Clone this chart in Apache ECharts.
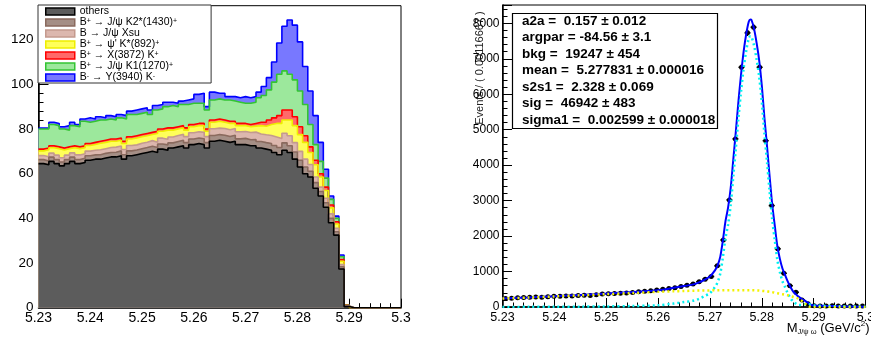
<!DOCTYPE html>
<html><head><meta charset="utf-8">
<script src="https://cdn.jsdelivr.net/npm/echarts@6/dist/echarts.min.js"></script>
<style>html,body{margin:0;padding:0;background:#fff}#c{width:871px;height:340px}</style>
</head><body><div id="c"></div>
<script>
// ---------------- LEFT PANEL: stacked MC histogram ----------------
const histStart = 5.23;          // low edge of first bin
const histBinWidth = 0.001;      // bin width
const others = [64.5,64,65.5,64.5,63.5,64.5,65.5,64.5,65,66,
  66.5,66.5,67,67.5,67.5,68,66.5,68,68.5,69,
  69.5,70,69.5,71,70.5,71.5,72,72.5,71.5,73,
  73.5,73,71.5,74.5,75,74.5,74,74.5,73,73,
  72.5,72.5,71.5,71,70.5,69.5,68.5,70.5,69.5,66.5,
  63,60,58.5,53.5,50,45,38,32.5,17.3,0.5,
  0,0,0,0,0,0,0,0,0,0];
const k2_1430 = [1.8,1.7,1.9,1.8,1.7,1.8,1.9,1.8,1.9,2.0,
  1.9,2.0,2.1,2.0,2.1,2.2,2.0,2.2,2.1,2.2,
  2.2,2.3,2.2,2.3,2.4,2.3,2.4,2.5,2.4,2.5,
  2.5,2.6,2.4,2.6,2.5,2.7,2.6,2.7,2.6,2.8,
  2.7,2.8,2.9,2.9,3.0,3.1,3.2,3.3,3.0,3.2,
  3.0,3.0,2.6,2.5,2.0,2.0,2.0,1.5,1.0,0.2,
  0,0,0,0,0,0,0,0,0,0];
const xsu = [1.8,1.9,1.8,2.0,1.9,2.0,1.9,2.1,2.0,2.1,
  2.1,2.2,2.1,2.2,2.3,2.2,2.3,2.4,2.3,2.4,
  2.4,2.5,2.4,2.6,2.5,2.6,2.7,2.6,2.7,2.8,
  2.8,2.9,2.7,3.0,2.9,3.0,3.1,3.0,3.2,3.1,
  3.2,3.3,3.4,3.5,3.6,3.8,4.0,4.3,4.5,4.2,
  4.0,3.5,3.0,2.5,2.0,2.0,2.0,1.5,1.0,0.1,
  0,0,0,0,0,0,0,0,0,0];
const psi2s_kstar892 = [2.1,3.1,2.4,2.9,3.5,2.9,2.3,2.8,2.7,2.5,
  2.6,2.9,2.8,2.8,2.6,2.6,2.7,2.9,3.1,2.9,
  2.9,2.7,3.9,3.1,4.1,3.1,2.9,2.9,2.9,2.7,
  2.7,3.0,2.4,2.9,3.1,2.8,2.8,2.3,2.7,2.6,
  2.6,2.7,3.7,3.8,4.9,6.1,6.8,5.9,7.0,7.6,
  7.5,7.5,5.4,5.5,4.5,3.5,2.7,2.0,1.5,0.2,
  0,0,0,0,0,0,0,0,0,0];
const x3872_k = [0.8,0.8,0.9,0.8,0.9,0.8,0.9,0.8,0.9,0.9,
  0.9,0.9,1.0,1.0,1.0,1.0,1.0,1.0,1.0,1.0,
  1.0,1.0,1.0,1.0,1.0,1.0,1.0,1.0,1.0,1.0,
  1.0,1.0,1.0,1.0,1.0,1.0,1.0,1.0,1.0,1.0,
  1.0,1.2,1.5,1.8,2.0,2.5,3.5,4.5,4.5,4.0,
  3.5,3.0,2.5,2.0,1.5,1.5,1.3,1.0,0.7,0.1,
  0,0,0,0,0,0,0,0,0,0];
const k1_1270 = [9,8.5,9.5,9.5,8.5,7.5,9,9,11,9.5,
  9.5,9.5,9,9,8.5,9,10,10,9.5,9.5,
  9.5,8,9.5,9,9.5,10,9,9.5,10.5,9.5,
  9,9,8.5,9,9,9,9.5,9,9.5,9,
  9.5,9.5,11,12,13.5,16,18.5,17.5,16,16.5,
  16,14,10,7,5.5,4,2.5,1.5,1.3,0.1,
  0,0,0,0,0,0,0,0,0,0];
const y3940_k = [0.4,0.5,1,1,1,2,1.5,1,1,2,
  1,1.5,1,1.5,1.5,1.5,1.5,1.5,2,2,
  2,2,2,2,2,1.5,1.5,1.5,2,2,
  4,4.5,1.5,3.5,2.5,3,1.5,2,2,3,
  2.5,2.5,2.5,4,5.5,9,14,20,24.3,24.5,
  22,17,15,13,8.5,4,1.5,1,0.8,0.1,
  0,0,0,0,0,0,0,0,0,0];
const stackNames = ['others','K2','Xsu','psi2S','X3872','K1','Y3940'];
const legendLabels = {
  others: '{n|others}',
  K2: '{n|B}{s|+}{n| → J/ψ K2*(1430)}{s|+}',
  Xsu: '{n|B → J/ψ Xsu}',
  psi2S: "{n|B}{s|+}{n| → ψ' K*(892)}{s|+}",
  X3872: '{n|B}{s|+}{n| → X(3872) K}{s|+}',
  K1: '{n|B}{s|+}{n| → J/ψ K1(1270)}{s|+}',
  Y3940: '{n|B}{s|-}{n| → Y(3940) K}{s|-}'
};

// ---------------- RIGHT PANEL: data + fit ----------------
const dataStart = 5.23;
const dataBinWidth = 0.07 / 60;   // "Events / ( 0.00116667 )"
const dataCounts = [240,248,262,270,272,280,275,290,300,305,
  312,310,322,330,325,345,365,375,380,390,
  398,410,430,445,460,478,500,520,545,580,
  615,650,715,785,860,1160,1890,3020,4740,6760,
  7730,7890,6760,4690,2860,1640,950,600,415,200,
  95,35,30,25,32,28,26,30,27,25];
const curveX = [5.230,5.235,5.240,5.245,5.250,5.255,5.260,5.263,5.265,5.267,5.268,5.269,5.270,5.271,5.2715,
  5.272,5.2725,5.273,5.2735,5.274,5.2745,5.275,5.2755,5.276,5.2765,5.277,5.2775,5.2778,5.278,5.2785,
  5.279,5.2795,5.280,5.2805,5.281,5.2815,5.282,5.2825,5.283,5.2835,5.284,5.2845,5.285,5.2855,5.286,
  5.2865,5.287,5.2875,5.288,5.2885,5.289,5.2895,5.290,5.292,5.295,5.300];
const fitTotal = [243,270,304,340,378,422,475,540,590,645,700,775,860,1040,1180,
  1420,1880,2420,2800,3350,4150,4950,5800,6550,7200,7700,8050,8110,8100,7850,
  7450,6950,6250,5350,4550,3700,2900,2300,1720,1350,1080,900,720,570,450,
  370,300,250,205,160,110,60,45,32,20,8];
const fitBkg = [240,266,298,330,362,395,428,443,452,460,463,466,469,471,472,
  473,474,475,475,475,475,475,475,474,474,473,472,472,471,470,
  467,465,455,448,440,430,420,405,390,375,360,345,330,312,290,
  268,240,195,140,75,20,0,0,0,0,0];
const fitSignal = [2,4,6,10,16,27,47,97,138,185,237,309,391,569,708,
  947,1406,1945,2325,2875,3675,4475,5325,6076,6726,7227,7578,7638,7629,7380,
  6983,6485,5795,4902,4110,3270,2480,1895,1330,975,720,555,390,258,160,
  102,60,55,65,85,90,60,45,32,20,8];
const fitParams = [
  'a2a =  0.157 ± 0.012',
  'argpar = -84.56 ± 3.1',
  'bkg =  19247 ± 454',
  'mean =  5.277831 ± 0.000016',
  's2s1 =  2.328 ± 0.069',
  'sig =  46942 ± 483',
  'sigma1 =  0.002599 ± 0.000018'
];

// ---------------- build ----------------
const FONT = '"Liberation Sans", Arial, Helvetica, sans-serif';
const nBins = others.length;
const layers = [others, k2_1430, xsu, psi2s_kstar892, x3872_k, k1_1270, y3940_k];
const layerStyle = [
  {fill:'#5c5c5c', line:'#000000'},
  {fill:'#a58f86', line:'#8a6a5e'},
  {fill:'#dcb7ae', line:'#c49a8e'},
  {fill:'#ffff5a', line:'#eeee00'},
  {fill:'#ff6a6a', line:'#ff0000'},
  {fill:'#9ce89c', line:'#33c433'},
  {fill:'#7878ff', line:'#0000ff'}
];
const cum = [];
let run = new Array(nBins).fill(0);
layers.forEach(arr => { run = run.map((v, i) => v + arr[i]); cum.push(run.slice()); });

const LX = 0, LY = 0, RX = 1, RY = 1;   // axis indices per panel
const series = [];
for (let k = layers.length - 1; k >= 0; k--) {
  const pts = cum[k].map((v, i) => [+(histStart + i * histBinWidth).toFixed(4), v]);
  pts.push([+(histStart + nBins * histBinWidth).toFixed(4), 0]);
  series.push({
    type: 'line', name: stackNames[k], xAxisIndex: LX, yAxisIndex: LY,
    step: 'end', data: pts, symbol: 'none', showSymbol: false,
    lineStyle: {color: layerStyle[k].line, width: 1.6},
    areaStyle: {color: layerStyle[k].fill, opacity: 1},
    itemStyle: {color: layerStyle[k].fill},
    animation: false, silent: true
  });
}

// data points with error bars
const dataPts = dataCounts.map((n, i) => [dataStart + (i + 0.5) * dataBinWidth, n, Math.sqrt(n)]);
series.push({
  type: 'custom', xAxisIndex: RX, yAxisIndex: RY, data: dataPts, z: 2,
  encode: {x: 0, y: 1}, animation: false, silent: true,
  renderItem: function (params, api) {
    const x = api.value(0), y = api.value(1), e = api.value(2);
    const pL = api.coord([x - dataBinWidth / 2, y]);
    const pR = api.coord([x + dataBinWidth / 2, y]);
    const pT = api.coord([x, y + e]);
    const pB = api.coord([x, y - e]);
    const c = api.coord([x, y]);
    return {type: 'group', children: [
      {type: 'line', shape: {x1: pL[0], y1: pL[1], x2: pR[0], y2: pR[1]}, style: {stroke: '#000', lineWidth: 1.4}},
      {type: 'line', shape: {x1: pT[0], y1: pT[1], x2: pB[0], y2: pB[1]}, style: {stroke: '#000', lineWidth: 1.4}},
      {type: 'circle', shape: {cx: c[0], cy: c[1], r: 2.5}, style: {fill: '#000'}}
    ]};
  }
});
function curve(vals) { return curveX.map((x, i) => [x, vals[i]]); }
series.push({type:'line', xAxisIndex:RX, yAxisIndex:RY, data: curve(fitTotal), smooth: 0.3, symbol:'none', z:3,
  lineStyle:{color:'#0000ff', width:2}, animation:false, silent:true});
series.push({type:'line', xAxisIndex:RX, yAxisIndex:RY, data: curve(fitSignal), smooth: 0.3, symbol:'none', z:4,
  lineStyle:{color:'#00f0f0', width:2.5, type:[2,3]}, animation:false, silent:true});
series.push({type:'line', xAxisIndex:RX, yAxisIndex:RY, data: curve(fitBkg), smooth: 0.3, symbol:'none', z:4,
  lineStyle:{color:'#f2f200', width:2.5, type:[2,3]}, animation:false, silent:true});

const blk = '#000';
const plain = v => String(+Number(v).toFixed(6));
function majorX(grid, fs, margin) {
  return {type:'value', gridIndex:grid, min:5.23, max:5.3, interval:0.01, position:'bottom',
    axisLine:{show:true, onZero:false, lineStyle:{color:blk, width:1.5}},
    axisTick:{show:true, inside:true, length:9, lineStyle:{color:blk, width:1}},
    axisLabel:{show:true, color:blk, fontSize:fs, fontFamily:FONT, margin:margin, formatter: plain},
    splitLine:{show:false},
    minorTick:{show:true, splitNumber:5, length:4.5, lineStyle:{color:blk, width:1}},
    minorSplitLine:{show:false}};
}
function majorY(grid, max, interval, fs, margin, tickLen) {
  return {type:'value', gridIndex:grid, min:0, max:max, interval:interval, position:'left',
    axisLine:{show:true, onZero:false, lineStyle:{color:blk, width:1.5}},
    axisTick:{show:true, inside:true, length:tickLen, lineStyle:{color:blk, width:1}},
    axisLabel:{show:true, color:blk, fontSize:fs, fontFamily:FONT, margin:margin, showMaxLabel:false, formatter: plain},
    splitLine:{show:false},
    minorTick:{show:true, splitNumber:5, length:5, lineStyle:{color:blk, width:1}},
    minorSplitLine:{show:false}};
}

const option = {
  backgroundColor: '#fff',
  animation: false,
  textStyle: {fontFamily: FONT},
  grid: [
    {left: 38.5, top: 5.7, width: 362.5, height: 302, show: true, borderColor: '#000', borderWidth: 1, backgroundColor: 'transparent', outerBoundsMode: 'none', containLabel: false},
    {left: 502.5, top: 5, width: 363, height: 302, show: true, borderColor: '#000', borderWidth: 1, backgroundColor: 'transparent', outerBoundsMode: 'none', containLabel: false}
  ],
  xAxis: [
    majorX(0, 14, 3),
    Object.assign(majorX(1, 12.5, 4), {
      name: '{m|M}{sub|J/ψ ω}{m| (GeV/c}{sup|2}{m|)}',
      nameLocation: 'end', nameGap: 4, nameMoveOverlap: false,
      nameTextStyle: {align: 'right', verticalAlign: 'top', padding: [13, 0, 0, 0], color: blk,
        rich: {m: {fontSize: 13, fontFamily: FONT, lineHeight: 16, color: blk},
               sub: {fontSize: 7.5, fontFamily: FONT, lineHeight: 8, verticalAlign: 'bottom', color: blk},
               sup: {fontSize: 8, fontFamily: FONT, lineHeight: 8, verticalAlign: 'top', color: blk}}}
    })
  ],
  yAxis: [
    majorY(0, 135.2, 20, 13.5, 5, 10),
    Object.assign(majorY(1, 8516, 1000, 12, 3, 9.5), {
      name: 'Events / ( 0.00116667 )', nameLocation: 'middle', nameRotate: 90, nameGap: 17,
      nameMoveOverlap: false,
      nameTextStyle: {fontSize: 11, fontFamily: FONT, color: '#222', padding: [0, 0, 0, 176]}
    })
  ],
  legend: {
    orient: 'vertical', left: 38, top: 5,
    itemWidth: 29, itemHeight: 7, itemGap: 0,
    padding: [1, 34, 0, 7],
    borderColor: '#333', borderWidth: 1, backgroundColor: '#fff',
    selectedMode: false,
    data: stackNames.map((n, k) => ({name: n, icon: 'rect',
      itemStyle: {color: layerStyle[k].fill, borderColor: layerStyle[k].line, borderWidth: 1.5}})),
    formatter: name => legendLabels[name],
    textStyle: {color: blk, fontFamily: FONT, fontSize: 10.5, lineHeight: 9,
      rich: {n: {fontSize: 10.5, lineHeight: 9, fontFamily: FONT, color: blk},
             s: {fontSize: 7, lineHeight: 5, verticalAlign: 'top', padding: [0, 0, 2, 0], fontFamily: FONT, color: blk}}}
  },
  title: [{
    text: fitParams.join('\n'), left: 512, top: 13,
    padding: [0, 3, 0, 10], borderColor: '#000', borderWidth: 1.2, backgroundColor: '#fff',
    textStyle: {fontFamily: FONT, fontWeight: 'bold', fontSize: 13.5, lineHeight: 16.5, color: blk}
  }],
  series: series
};
const chart = echarts.init(document.getElementById('c'), null, {renderer: 'canvas'});
chart.setOption(option);
</script></body></html>
